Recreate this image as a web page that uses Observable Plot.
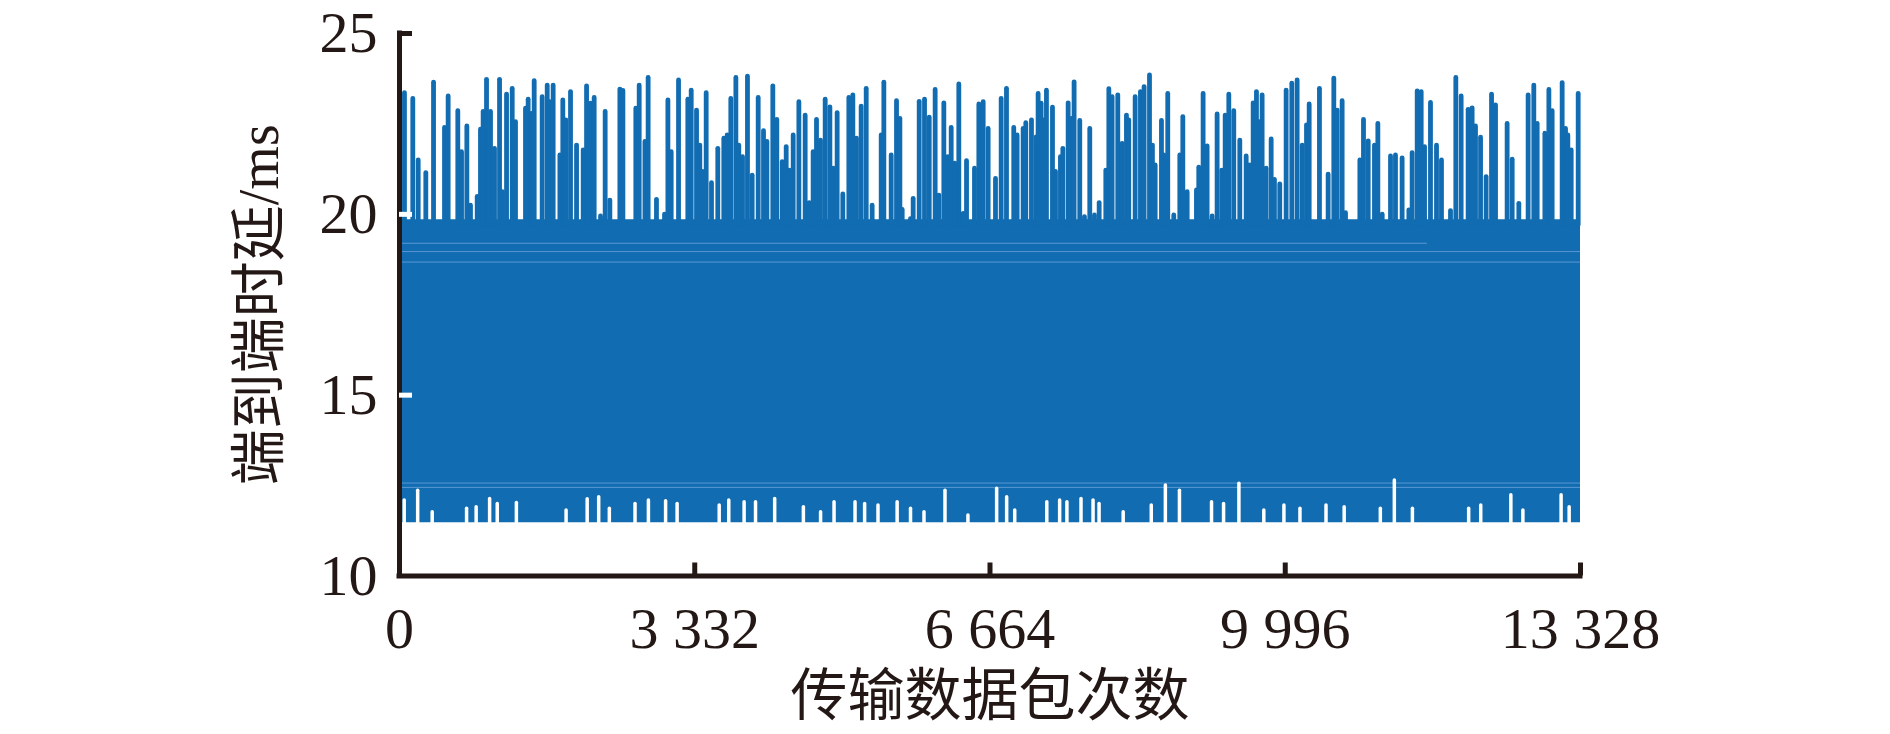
<!DOCTYPE html>
<html>
<head>
<meta charset="utf-8">
<script src="https://cdn.jsdelivr.net/npm/d3@7"></script>
<script src="https://cdn.jsdelivr.net/npm/@observablehq/plot@0.6"></script>
<style>
  html, body { margin: 0; padding: 0; background: #ffffff; }
  #chart { width: 1890px; height: 734px; }
</style>
</head>
<body>
<div id="chart"></div>
<script>
// ---- Data ----
const xTicks = [0, 3332, 6664, 9996, 13328];
const xTickLabels = ["0", "3 332", "6 664", "9 996", "13 328"];
const yTicks = [10, 15, 20, 25];
const xLabel = "传输数据包次数";
const yLabel = "端到端时延/ms";

// dense band of the delay series (min / typical max)
const bandX = [0, 13328];
const bandLow = [11.47, 11.47];
const bandHigh = [19.85, 19.85];

// peaks above the band (packet index, delay in ms)
const spikeX = [56,150,211,297,384,508,549,658,700,760,801,877,914,944,982,1027,1072,1129,1162,1208,1272,1309,1422,1452,1486,1520,1610,1667,1697,1734,1810,1843,1877,1930,1998,2073,2111,2156,2197,2269,2321,2374,2487,2521,2667,2705,2770,2806,2900,2991,3029,3066,3149,3254,3292,3352,
3389,3419,3461,3521,3592,3660,3698,3739,3796,3829,3871,3927,3980,4048,4108,4146,4213,4258,4319,4364,4398,4443,4507,4578,4623,4668,4706,4751,4804,4857,4894,4939,5003,5071,5116,5157,5210,5267,5334,5436,5466,5549,5609,5647,5673,5767,5797,5865,5925,5978,6045,6087,6143,6188,6226,6267,6312,6361,6399,6489,6538,6587,6643,6726,6790,6850,
6932,6970,7038,7068,7132,7185,7207,7241,7271,7301,7369,7403,7459,7486,7546,7580,7613,7677,7730,7790,7843,7896,7971,8005,8042,8106,8155,8204,8230,8302,8362,8403,8464,8497,8528,8599,8625,8670,8738,8806,8840,8889,8994,9020,9069,9114,9171,9227,9280,9318,9359,9415,9483,9555,9592,9634,9671,9701,9735,9780,9837,9874,9934,10006,10070,10130,10187,10236,10266,10382,
10480,10544,10582,10638,10676,10838,10879,10932,11003,11041,11090,11184,11240,11315,11391,11428,11485,11530,11568,11635,11703,11759,11861,11921,11981,12060,12105,12143,12200,12263,12324,12369,12500,12557,12632,12737,12801,12839,12926,12971,13008,13121,13159,13185,13223,13302];
const spikeY = [23.35,23.19,21.49,21.14,23.64,22.39,23.26,22.85,21.72,22.43,20.24,20.48,22.34,22.83,23.72,22.83,21.81,23.72,20.61,23.31,23.47,22.55,22.92,23.17,22.78,23.68,23.24,23.56,23.10,23.56,21.63,23.15,22.60,23.38,21.90,21.77,23.54,23.06,23.22,19.94,22.83,20.38,23.45,23.41,22.92,23.56,22.00,23.77,20.40,19.99,23.15,21.72,23.70,23.17,23.42,22.87,
21.90,21.17,23.35,20.86,21.81,22.09,22.18,23.19,23.77,21.90,21.58,23.81,21.07,23.22,22.30,22.00,23.54,22.61,21.44,21.86,21.21,22.18,23.10,22.73,20.31,21.72,22.61,22.04,23.17,22.96,21.26,22.80,20.55,23.22,23.29,22.09,22.98,23.47,20.24,22.18,23.64,21.63,23.13,22.64,20.12,19.87,20.43,23.11,23.17,22.67,23.44,20.52,23.07,21.58,22.39,21.40,23.59,20.01,21.47,21.26,23.04,23.10,22.36,20.98,23.19,23.47,
22.39,22.18,22.36,22.52,22.60,22.13,23.33,23.06,22.60,23.42,22.95,21.17,21.58,21.81,23.07,22.64,23.65,22.58,19.92,22.36,19.97,20.31,21.21,23.46,23.24,23.29,21.95,22.73,22.60,23.24,23.38,23.52,23.84,21.90,21.35,22.58,21.63,23.33,19.97,21.63,22.69,20.61,20.66,21.29,23.33,21.88,19.94,22.76,21.21,22.73,23.31,22.85,22.04,21.60,21.35,23.07,23.38,22.55,23.29,21.26,22.07,20.95,20.83,23.42,23.61,23.70,21.90,22.46,23.04,23.47,
21.10,23.75,22.87,23.13,20.03,21.49,22.61,22.02,21.90,22.50,19.99,21.60,21.63,21.55,20.11,21.69,23.40,23.38,21.86,23.08,21.90,21.49,20.09,23.77,23.26,22.89,22.93,22.43,22.12,21.03,23.31,23.01,22.50,21.51,20.29,23.29,23.56,22.50,22.23,23.44,22.85,23.63,22.36,22.18,21.77,23.33];
const spikeBase = 19.7;

// places where the lower edge of the band rises (packet index, minimum delay in ms)
const notchX = [53,205,369,757,865,1017,1103,1319,1880,2118,2248,2368,2658,2809,3003,3133,3608,3716,3889,4018,4234,4558,4752,4904,5141,5249,5400,5616,5767,5919,6156,6415,
6739,6852,6943,7305,7450,7532,7691,7827,7895,8167,8484,8643,8802,9164,9300,9473,9754,9981,10162,10456,10661,11069,11227,11431,12066,12202,12542,12678,13109,13200];
const notchY = [12.09,12.36,11.76,11.86,11.90,12.13,11.99,12.02,11.81,12.12,12.18,11.86,11.99,12.09,12.07,11.99,11.95,12.09,12.04,12.04,12.13,11.90,11.76,12.04,12.04,11.99,11.95,12.04,11.86,11.76,12.36,11.67,
12.41,12.18,11.81,12.04,12.09,12.04,12.13,12.09,11.99,11.76,11.95,12.50,12.36,12.04,11.99,12.55,11.81,11.95,11.86,11.95,11.90,11.86,12.64,11.86,11.86,11.95,12.23,11.81,12.23,11.90];
const notchFloor = 11.3;

// faint horizontal traces inside the band
const traceY = [19.20, 18.97, 18.68, 12.57, 12.45];
const traceX1 = [0, 0, 0, 0, 0];
const traceX2 = [11600, 13328, 13328, 13328, 13328];

// ---- Build tables ----
const band = bandX.map((x, i) => ({x, lo: bandLow[i], hi: bandHigh[i]}));
const spikes = spikeX.map((x, i) => ({x, y: spikeY[i]}));
const notches = notchX.map((x, i) => ({x, y: notchY[i]}));
const traces = traceY.map((y, i) => ({y, x1: traceX1[i], x2: traceX2[i]}));

const blue = "#116cb1";
const light = "#5a97d3";
const ink = "#231815";
const serif = "'Liberation Serif', 'Times New Roman', serif";
const labelFont = "'Liberation Serif', 'Noto Sans CJK SC', serif";

const chart = Plot.plot({
  width: 1890,
  height: 734,
  marginLeft: 399,
  marginRight: 310,
  marginTop: 33,
  marginBottom: 158.5,
  style: {background: "#ffffff", fontFamily: serif, fontSize: "58px", color: ink},
  x: {domain: [0, 13328]},
  y: {domain: [10, 25]},
  marks: [
    Plot.areaY(band, {x: "x", y1: "lo", y2: "hi", fill: blue}),
    Plot.ruleX(spikes, {x: "x", y1: spikeBase, y2: "y", stroke: blue, strokeWidth: 4.8, strokeLinecap: "round"}),
    Plot.ruleY(traces, {y: "y", x1: "x1", x2: "x2", stroke: light, strokeWidth: 1}),
    Plot.ruleX(notches, {x: "x", y1: notchFloor, y2: "y", stroke: "#ffffff", strokeWidth: 3.5, strokeLinecap: "round"}),
    // axis lines
    Plot.ruleX([0], {y1: 10, y2: 25, stroke: ink, strokeWidth: 5, strokeLinecap: "square"}),
    Plot.ruleY([10], {x1: 0, x2: 13328, stroke: ink, strokeWidth: 5, strokeLinecap: "square"}),
    // inward ticks
    Plot.axisX(xTicks.slice(1), {tickSize: 13, dy: -13, stroke: ink, strokeWidth: 5, tickFormat: () => "", label: null}),
    Plot.axisY([25], {tickSize: 13, dx: 13, stroke: ink, strokeWidth: 5, tickFormat: () => "", label: null}),
    Plot.axisY([15, 20], {tickSize: 13, dx: 13, stroke: "#ffffff", strokeWidth: 5, tickFormat: () => "", label: null}),
    // tick labels
    Plot.axisX(xTicks, {tickSize: 0, tickPadding: 31, tickFormat: (d) => xTickLabels[xTicks.indexOf(d)], fontSize: 58, fontFamily: serif, fill: ink, label: null}),
    Plot.axisY(yTicks, {tickSize: 0, tickPadding: 22, fontSize: 58, fontFamily: serif, fill: ink, label: null}),
    // axis titles
    Plot.text([xLabel], {frameAnchor: "bottom", dy: 121, text: d => d, textAnchor: "middle", lineAnchor: "middle", fontSize: 57, fontFamily: "'Noto Sans CJK SC', sans-serif", fill: ink}),
    Plot.text([yLabel], {frameAnchor: "left", dx: -139, rotate: -90, text: d => d, textAnchor: "middle", lineAnchor: "middle", fontSize: 56, fontFamily: labelFont, fill: ink})
  ]
});
document.getElementById("chart").appendChild(chart);
</script>
</body>
</html>
